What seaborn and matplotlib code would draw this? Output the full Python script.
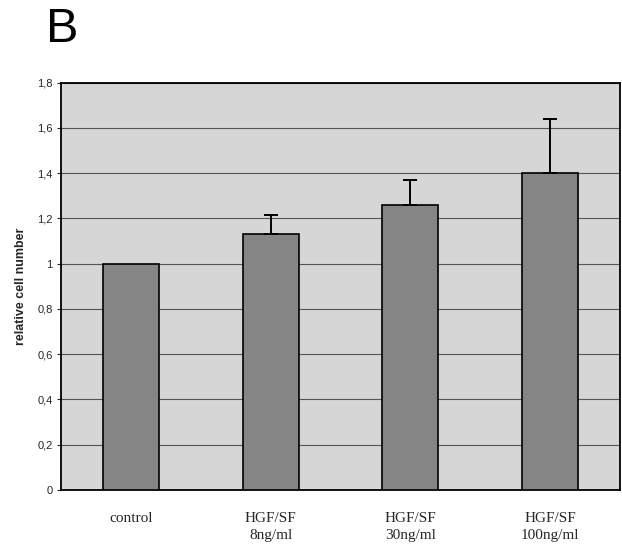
import numpy as np
import pandas as pd
import matplotlib.pyplot as plt
import seaborn as sns

# values
categories = ["control", "HGF/SF\n8ng/ml", "HGF/SF\n30ng/ml", "HGF/SF\n100ng/ml"]
cell_number = [1.00, 1.13, 1.26, 1.40]
upper_err = [0.00, 0.085, 0.11, 0.24]
y_ticks = [0, 0.2, 0.4, 0.6, 0.8, 1.0, 1.2, 1.4, 1.6, 1.8]
y_ticklabels = ["0", "0,2", "0,4", "0,6", "0,8", "1", "1,2", "1,4", "1,6", "1,8"]

sns.set_style("white")
plt.rcParams["font.family"] = ["Liberation Sans", "DejaVu Sans"]

df = pd.DataFrame({"group": categories, "value": cell_number})

fig = plt.figure(figsize=(6.22, 5.48), dpi=100)
ax = fig.add_axes([61 / 622, 58 / 548, 559 / 622, 407.3 / 548])
ax.set_facecolor("#d6d6d6")

sns.barplot(data=df, x="group", y="value", ax=ax, color="#858585",
            width=0.4, edgecolor="black", linewidth=1.2, saturation=1, zorder=3)

# one-sided error bars (upper only), skipped where there is none
xs = np.arange(len(categories))
has_err = np.array(upper_err) > 0
ax.errorbar(xs[has_err], np.array(cell_number)[has_err],
            yerr=[np.zeros(has_err.sum()), np.array(upper_err)[has_err]], fmt="none",
            ecolor="black", elinewidth=1.4, capsize=5, capthick=1.4, zorder=4)

ax.set_xlim(-0.5, len(categories) - 0.5)
ax.set_ylim(0, 1.8)
ax.set_yticks(y_ticks)
ax.set_yticklabels(y_ticklabels, fontsize=8)
ax.yaxis.grid(True, color="#555555", linewidth=0.8, zorder=1)
ax.set_axisbelow(True)

# category labels, boundary tick marks below
ax.set_xticks(xs)
ax.set_xticklabels(categories, fontsize=11, family=["Liberation Serif", "DejaVu Serif"],
                   linespacing=1.4)
ax.tick_params(axis="x", which="major", length=0, pad=16)
ax.set_xticks(np.arange(-0.5, len(categories), 1.0), minor=True)
ax.tick_params(axis="x", which="minor", length=4, width=0.8, direction="out", color="#333333")
ax.tick_params(axis="y", length=3, width=0.8, direction="out", pad=3, left=True)

for s in ax.spines.values():
    s.set_color("black")
    s.set_linewidth(1.3)

ax.set_xlabel("")
ax.set_ylabel("relative cell number", fontsize=9, fontweight="bold", labelpad=7)

fig.text(62 / 622, 1 - 29 / 548, "B", fontsize=35, color="black", ha="center", va="center")

fig.savefig("out.png", dpi=100)
